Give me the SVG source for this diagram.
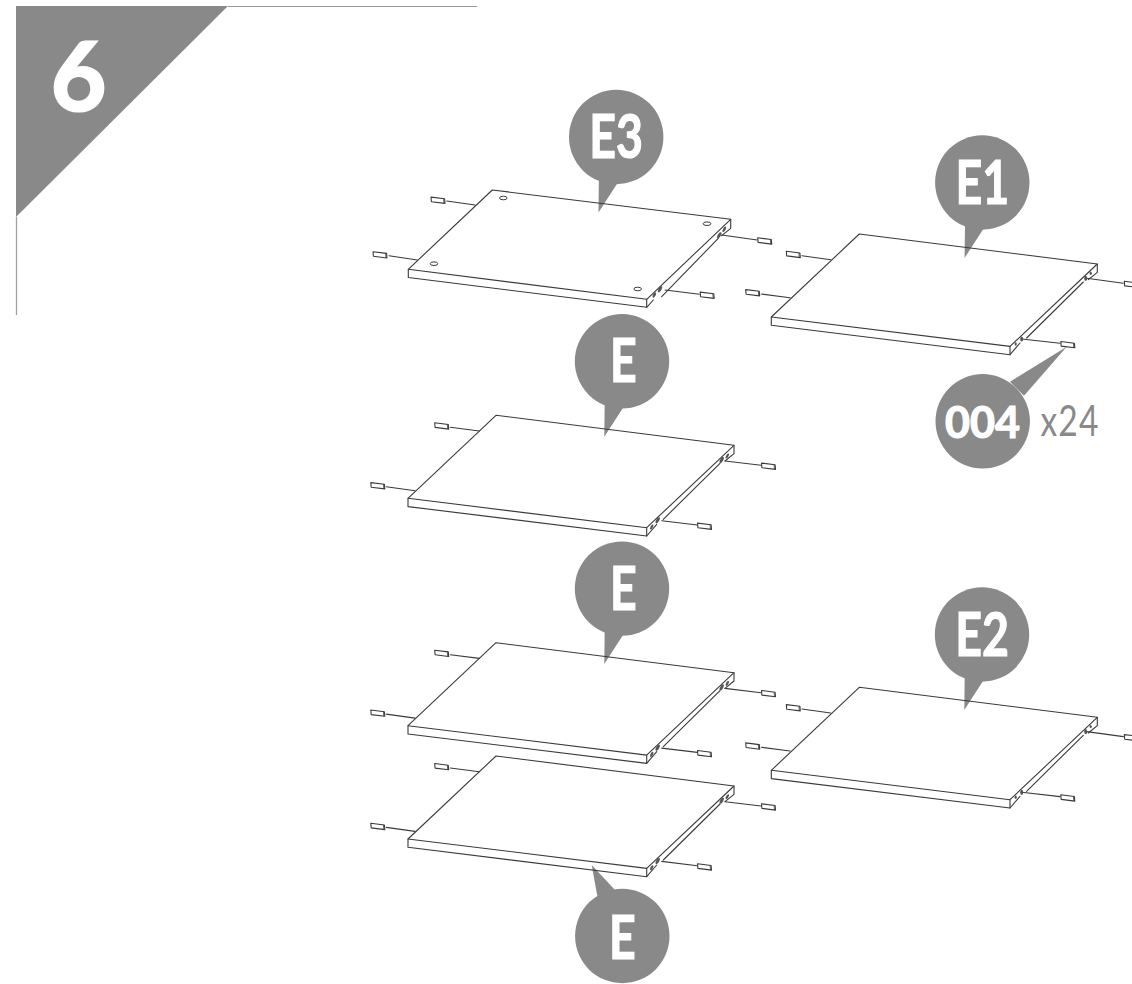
<svg xmlns="http://www.w3.org/2000/svg" width="1132" height="984" viewBox="0 0 1132 984">
<style>
.ln{fill:none;stroke:#3a3a3a;stroke-width:1.1;stroke-linejoin:round;stroke-linecap:round}
.bub{fill:#898989}
.lab{fill:#fff;stroke:#fff;stroke-width:1.2;font-family:Lato,"Open Sans","Liberation Sans",sans-serif;font-weight:700;text-anchor:middle}
.pin{fill:#fff;stroke:#3a3a3a;stroke-width:1.1;stroke-linejoin:round}
.hole{fill:#555}
.cap{fill:none;stroke:#3a3a3a;stroke-width:1}
</style>
<defs>
<g id="pin"><path class="pin" d="M-7,-3.2 L6.6,-1.5 L7,3.1 L-6.6,1.4 Z"/><path fill="none" stroke="#3a3a3a" stroke-width=".8" d="M5.6,-1.6 L6,3"/></g>
<g id="bubE"><circle class="bub" cx="0" cy="0" r="47.2"/><path class="bub" d="M-17.3,40 L-17.7,75.4 L2,45 Z"/></g>
<g id="panelE">
<path class="ln" d="M0,0 L238,30 L150.7,112.4 L-88,83 Z"/>
<path class="ln" d="M-88,83 L-88,91.3 L150.7,120.7 L150.7,112.4"/>
<path class="ln" d="M238,30 L238,38.3 L229,45.7 M224,48 L167.3,104 M160.7,109 L150.7,120.7"/>
</g>
<g id="holesBig">
<ellipse class="hole" cx="155.7" cy="111.7" rx="1.2" ry="2.8" transform="rotate(30 155.7 111.7)"/>
<ellipse class="hole" cx="161.7" cy="105" rx="1.5" ry="3.4" transform="rotate(30 161.7 105)"/>
<ellipse class="hole" cx="231.3" cy="40.7" rx="1.2" ry="2.8" transform="rotate(30 231.3 40.7)"/>
<ellipse class="hole" cx="225.7" cy="44.7" rx="1.5" ry="3.4" transform="rotate(30 225.7 44.7)"/>
</g>
<g id="holesSmall">
<ellipse class="hole" cx="156.4" cy="110" rx="1.1" ry="1.7"/>
<ellipse class="hole" cx="162.4" cy="105" rx="1.5" ry="2.6"/>
<ellipse class="hole" cx="231.4" cy="39.3" rx="1.1" ry="1.7"/>
<ellipse class="hole" cx="226.4" cy="44.3" rx="1.5" ry="2.6"/>
</g>
<g id="pinsE">
<use href="#pin" x="-54.3" y="10.7"/><use href="#pin" x="-118.2" y="70.5"/><use href="#pin" x="272.5" y="51"/><use href="#pin" x="208.5" y="111"/>
</g>
<g id="pinsF">
<use href="#pin" x="-66" y="20.5"/><use href="#pin" x="-106.6" y="58.8"/><use href="#pin" x="272" y="50.5"/><use href="#pin" x="208.5" y="110.7"/>
</g>
<path id="leadE" class="ln" d="M-45.7,12 L-16.7,15.7 M-109.7,71.4 L-81,75.4 M229,45.7 L265,50 M165.7,105.4 L201.3,109.7"/>
<path id="leadF" class="ln" d="M-57.3,21.7 L-28.6,25.7 M-98,60 L-69.3,63.7 M227.4,44.3 L264,49.3 M162.4,105 L200.7,109.3"/>
</defs>

<g id="step-header">
<path d="M16,6 L228,6 L16,217 Z" fill="#898989"/>
<path d="M228,6.5 L477,6.5" fill="none" stroke="#999" stroke-width="1"/>
<path d="M16.5,217 L16.5,315" fill="none" stroke="#a0a0a0" stroke-width="1.3"/>
<text x="78.5" y="110.5" stroke="#fff" stroke-width="2.2" font-family="Lato,'Open Sans','Liberation Sans',sans-serif" font-weight="700" font-size="96" text-anchor="middle" fill="#fff">6</text>
</g>

<g id="callout-E3"><use href="#bubE" x="616.2" y="137"/><text class="lab" font-size="62" transform="translate(616,158.3) scale(.75,1)">E3</text></g>
<g id="callout-E1"><use href="#bubE" x="982.3" y="182.5"/><text class="lab" font-size="62" transform="translate(982.3,204) scale(.75,1)">E1</text></g>
<g id="callout-E-a"><use href="#bubE" x="622" y="361.3"/><text class="lab" font-size="62" transform="translate(623.3,382.3) scale(.75,1)">E</text></g>
<g id="callout-E-b"><use href="#bubE" x="622" y="588.6"/><text class="lab" font-size="62" transform="translate(623.3,609.6) scale(.75,1)">E</text></g>
<g id="callout-E2"><use href="#bubE" x="982" y="634.5"/><text class="lab" font-size="62" transform="translate(982,655.5) scale(.75,1)">E2</text></g>
<g id="callout-E-c"><circle class="bub" cx="622.3" cy="936" r="47.2"/><path class="bub" d="M591.7,865 L615,890 L597.3,896 Z"/><text class="lab" font-size="62" transform="translate(622.3,959.3) scale(.75,1)">E</text></g>
<g id="callout-004"><circle class="bub" cx="982.7" cy="421.3" r="47.2"/><path class="bub" d="M1010,381.7 L1066.7,346.7 L1024,395.7 Z"/><text class="lab" font-size="43" x="982.5" y="438">004</text>
<text font-family="Lato,'Open Sans','Liberation Sans',sans-serif" font-size="43" letter-spacing="1.5" fill="#898989" transform="translate(1040.5,436) scale(.78,1)">x24</text></g>

<g id="connectors">
<use href="#leadF" x="859.3" y="234"/><use href="#leadF" x="859.3" y="687.3"/>
<use href="#leadE" x="496" y="415.3"/><use href="#leadE" x="496" y="642.7"/><use href="#leadE" x="496" y="756"/>
<path class="ln" d="M446.7,201 L475,205 M389,255.7 L417.3,260 M721.7,235 L757.3,240 M665,290 L699.3,294.3"/>
</g>

<g id="panel-E3">
<path class="ln" d="M492.3,190 L730.7,219.3 L646.7,299.3 L408.3,269.3 Z"/>
<path class="ln" d="M408.3,269.3 L408.3,277.5 L646.7,307.3 L646.7,299.3"/>
<path class="ln" d="M730.7,219.3 L730.7,228.3 L721.7,235.7 M718.3,238.3 L661.7,296.7 M653.3,300 L646.7,307.3"/>
<ellipse class="cap" cx="503.3" cy="198" rx="3.8" ry="1.8"/><ellipse class="cap" cx="707" cy="223.7" rx="3.8" ry="1.8"/><ellipse class="cap" cx="434" cy="263.7" rx="3.8" ry="1.8"/><ellipse class="cap" cx="637.7" cy="289" rx="3.8" ry="1.8"/>
<ellipse class="hole" cx="654.3" cy="295" rx="1.3" ry="3" transform="rotate(30 654.3 295)"/><ellipse class="hole" cx="660" cy="289.3" rx="1.5" ry="3.4" transform="rotate(30 660 289.3)"/><ellipse class="hole" cx="719.3" cy="235.3" rx="1.5" ry="3.4" transform="rotate(30 719.3 235.3)"/><ellipse class="hole" cx="724.3" cy="229.3" rx="1.3" ry="3" transform="rotate(30 724.3 229.3)"/>
<use href="#pin" x="438" y="200.3"/><use href="#pin" x="380" y="254.9"/><use href="#pin" x="764.7" y="241"/><use href="#pin" x="707.2" y="295.3"/>
</g>
<g id="panel-E1" transform="translate(859.3,234)"><use href="#panelE"/><use href="#holesSmall"/><use href="#pinsF"/></g>
<g id="panel-E-a" transform="translate(496,415.3)"><use href="#panelE"/><use href="#holesBig"/><use href="#pinsE"/></g>
<g id="panel-E-b" transform="translate(496,642.7)"><use href="#panelE"/><use href="#holesBig"/><use href="#pinsE"/></g>
<g id="panel-E-c" transform="translate(496,756)"><use href="#panelE"/><use href="#holesBig"/><use href="#pinsE"/></g>
<g id="panel-E2" transform="translate(859.3,687.3)"><use href="#panelE"/><use href="#holesSmall"/><use href="#pinsF"/></g>
</svg>
